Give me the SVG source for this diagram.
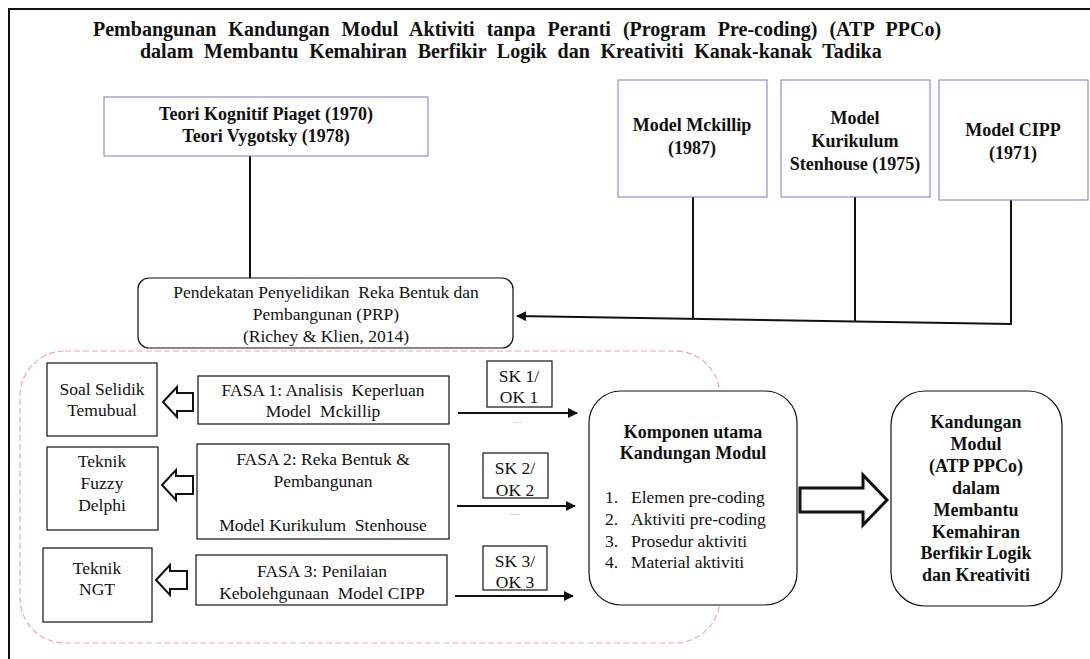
<svg xmlns="http://www.w3.org/2000/svg" width="1090" height="659" viewBox="0 0 1090 659">
<defs>
<style>
text{font-family:"Liberation Serif","Times New Roman",serif;fill:#111;text-anchor:middle}
.b{font-weight:bold;font-size:18px}
.r{font-size:17.5px}
.t{font-weight:bold;font-size:20px;text-anchor:start}
.blue{fill:#fff;stroke:#7b7bc8;stroke-width:1}
.box{fill:#fff;stroke:#111;stroke-width:1.2}
.ln{stroke:#111;stroke-width:2;fill:none}
.hollow{fill:#fff;stroke:#111;stroke-width:2;stroke-linejoin:miter}
.dots{font-size:8px;fill:#999}
.lst{text-anchor:start;font-size:17.5px}
</style>
<marker id="ah" viewBox="0 0 10 10" refX="9" refY="5" markerWidth="5" markerHeight="5" orient="auto" markerUnits="strokeWidth">
<path d="M0,0 L10,5 L0,10 z" fill="#111"/>
</marker>
</defs>
<rect x="0" y="0" width="1090" height="659" fill="#fff"/>
<g id="frame">
<path d="M9,659 L9,9 L1090,9" fill="none" stroke="#111" stroke-width="2"/>
</g>
<g id="title">
<text class="t" x="93" y="36" style="word-spacing:7px">Pembangunan Kandungan Modul Aktiviti tanpa Peranti (Program Pre-coding) (ATP PPCo)</text>
<text class="t" x="140" y="58" style="word-spacing:5.7px">dalam Membantu Kemahiran Berfikir Logik dan Kreativiti Kanak-kanak Tadika</text>
</g>
<g id="region">
<rect x="20" y="351" width="700" height="292" rx="45" ry="45" fill="none" stroke="#f2a5b5" stroke-width="1.2" stroke-dasharray="6,3"/>
</g>
<g id="connectors">
<line class="ln" x1="250" y1="156" x2="250" y2="278"/>
<line class="ln" x1="693" y1="197" x2="693" y2="319"/>
<line class="ln" x1="855" y1="197" x2="855" y2="322"/>
<polyline class="ln" points="1011,200 1011,324 517,316" marker-end="url(#ah)"/>
<line class="ln" x1="458" y1="413" x2="577" y2="413" marker-end="url(#ah)"/>
<line class="ln" x1="457" y1="506" x2="575" y2="506" marker-end="url(#ah)"/>
<line class="ln" x1="455" y1="596" x2="573" y2="596" marker-end="url(#ah)"/>
<polygon class="hollow" points="163,402 177,387 177,393 193,393 193,411 177,411 177,417"/>
<polygon class="hollow" points="162,485 176,470 176,476 193,476 193,494 176,494 176,500"/>
<polygon class="hollow" points="156,580 170,565 170,571 187,571 187,589 170,589 170,595"/>
<polygon class="hollow" style="stroke-width:3" points="800,488 863,488 863,475 887,500 863,525 863,512 800,512"/>
<text class="dots" x="518" y="423">.....</text>
<text class="dots" x="515" y="515">.....</text>
</g>
<g id="teori">
<rect class="blue" x="104" y="97" width="324" height="59"/>
<text class="b" x="266" y="120">Teori Kognitif Piaget (1970)</text>
<text class="b" x="266" y="142">Teori Vygotsky (1978)</text>
</g>
<g id="mckillip">
<rect class="blue" x="618" y="80" width="149" height="117"/>
<text class="b" x="692" y="131">Model Mckillip</text>
<text class="b" x="692" y="154">(1987)</text>
</g>
<g id="kurikulum">
<rect class="blue" x="781" y="80" width="149" height="117"/>
<text class="b" x="855" y="124">Model</text>
<text class="b" x="855" y="147">Kurikulum</text>
<text class="b" x="855" y="170">Stenhouse (1975)</text>
</g>
<g id="cipp">
<rect class="blue" x="939" y="80" width="149" height="120"/>
<text class="b" x="1013" y="136">Model CIPP</text>
<text class="b" x="1013" y="159">(1971)</text>
</g>
<g id="prp">
<rect class="box" x="138" y="278" width="375" height="70" rx="11" ry="11"/>
<text class="r" x="326" y="298" xml:space="preserve">Pendekatan Penyelidikan  Reka Bentuk dan</text>
<text class="r" x="326" y="320">Pembangunan (PRP)</text>
<text class="r" x="326" y="342">(Richey &amp; Klien, 2014)</text>
</g>
<g id="soal">
<rect class="box" x="47" y="363" width="110" height="73"/>
<text class="r" x="102" y="395">Soal Selidik</text>
<text class="r" x="102" y="416">Temubual</text>
</g>
<g id="fuzzy">
<rect class="box" x="47" y="447" width="111" height="83"/>
<text class="r" x="102" y="467">Teknik</text>
<text class="r" x="102" y="489">Fuzzy</text>
<text class="r" x="102" y="511">Delphi</text>
</g>
<g id="ngt">
<rect class="box" x="43" y="548" width="109" height="74"/>
<text class="r" x="97" y="574">Teknik</text>
<text class="r" x="97" y="595">NGT</text>
</g>
<g id="fasa1">
<rect class="box" x="198" y="376" width="251" height="48"/>
<text class="r" x="323" y="396" xml:space="preserve">FASA 1: Analisis  Keperluan</text>
<text class="r" x="323" y="417" xml:space="preserve">Model  Mckillip</text>
</g>
<g id="fasa2">
<rect class="box" x="197" y="444" width="252" height="95"/>
<text class="r" x="323" y="465">FASA 2: Reka Bentuk &amp;</text>
<text class="r" x="323" y="487">Pembangunan</text>
<text class="r" x="323" y="531" xml:space="preserve">Model Kurikulum  Stenhouse</text>
</g>
<g id="fasa3">
<rect class="box" x="196" y="555" width="251" height="50"/>
<text class="r" x="322" y="577">FASA 3: Penilaian</text>
<text class="r" x="322" y="599" xml:space="preserve">Kebolehgunaan  Model CIPP</text>
</g>
<g id="sk1">
<rect class="box" x="487" y="361" width="65" height="46"/>
<text class="r" x="519" y="382">SK 1/</text>
<text class="r" x="519" y="403">OK 1</text>
</g>
<g id="sk2">
<rect class="box" x="483" y="453" width="65" height="45"/>
<text class="r" x="515" y="474">SK 2/</text>
<text class="r" x="515" y="496">OK 2</text>
</g>
<g id="sk3">
<rect class="box" x="483" y="546" width="64" height="44"/>
<text class="r" x="515" y="567">SK 3/</text>
<text class="r" x="515" y="588">OK 3</text>
</g>
<g id="komponen">
<rect class="box" x="589" y="391" width="208" height="214" rx="32" ry="32"/>
<text class="b" x="693" y="438">Komponen utama</text>
<text class="b" x="693" y="459">Kandungan Modul</text>
<text class="lst" x="605" y="503">1.</text><text class="lst" x="631" y="503">Elemen pre-coding</text>
<text class="lst" x="605" y="525">2.</text><text class="lst" x="631" y="525">Aktiviti pre-coding</text>
<text class="lst" x="605" y="547">3.</text><text class="lst" x="631" y="547">Prosedur aktiviti</text>
<text class="lst" x="605" y="568">4.</text><text class="lst" x="631" y="568">Material aktiviti</text>
</g>
<g id="kandungan">
<rect class="box" x="891" y="391" width="171" height="215" rx="34" ry="34"/>
<text class="b" x="976" y="428">Kandungan</text>
<text class="b" x="976" y="450">Modul</text>
<text class="b" x="976" y="472">(ATP PPCo)</text>
<text class="b" x="976" y="494">dalam</text>
<text class="b" x="976" y="516">Membantu</text>
<text class="b" x="976" y="538">Kemahiran</text>
<text class="b" x="976" y="559">Berfikir Logik</text>
<text class="b" x="976" y="581">dan Kreativiti</text>
</g>
</svg>
